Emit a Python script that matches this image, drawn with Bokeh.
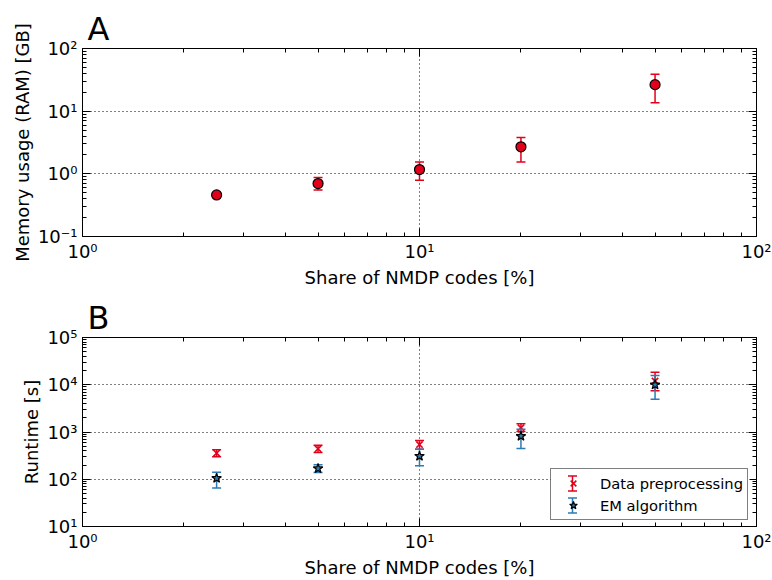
from bokeh.plotting import figure
from bokeh.layouts import column
from bokeh.models import (LogAxis, FixedTicker, CustomJSTickFormatter, Legend,
                          LegendItem, ColumnDataSource, BoxAnnotation)
from bokeh.embed import file_html
from bokeh.resources import INLINE

# ---------------- data ----------------
share = [2.5, 5, 10, 20, 50]

mem = [0.46, 0.70, 1.17, 2.7, 26.5]
mem_low = [0.44, 0.55, 0.79, 1.55, 13.6]
mem_high = [0.48, 0.87, 1.55, 3.8, 39.0]

pre = [356, 441, 543, 1228, 12000]
pre_low = [300, 368, 433, 1023, 7500]
pre_high = [420, 525, 661, 1492, 18400]

em = [105, 169, 308, 815, 10000]
em_low = [65, 139, 193, 447, 4940]
em_high = [141, 202, 433, 1150, 15700]

x_major = [1, 10, 100]
y1_major = [0.1, 1, 10, 100]
y2_major = [10, 100, 1000, 10000, 100000]

legend_labels = ["Data preprocessing", "EM algorithm"]

RED = "#e2001a"
BLUE = "#2b7bb5"
FONT = "DejaVu Sans"


def minors(majors):
    out = []
    for m in majors[:-1]:
        out += [m * k for k in range(2, 10)]
    return out


sup_fmt = CustomJSTickFormatter(code="""
const sup = {'-':'\u207b','0':'\u2070','1':'\u00b9','2':'\u00b2','3':'\u00b3',
             '4':'\u2074','5':'\u2075','6':'\u2076','7':'\u2077','8':'\u2078','9':'\u2079'};
const e = Math.round(Math.log10(tick));
return '10' + String(e).split('').map(c => sup[c]).join('');
""")
blank_fmt = CustomJSTickFormatter(code="return '';")


def make_fig(ylo, yhi, ymaj, ylabel, title, top_border, bottom_border, height):
    p = figure(width=772, height=height, x_axis_type="log", y_axis_type="log",
               x_range=(1, 100), y_range=(ylo, yhi),
               output_backend="svg", toolbar_location=None,
               min_border_left=82, min_border_right=16,
               min_border_top=top_border, min_border_bottom=bottom_border)
    p.outline_line_color = "black"
    p.outline_line_width = 1
    p.background_fill_color = "white"
    p.border_fill_color = "white"

    xt = FixedTicker(ticks=x_major, minor_ticks=minors(x_major))
    yt = FixedTicker(ticks=ymaj, minor_ticks=minors(ymaj))

    for ax, t in ((p.xaxis[0], xt), (p.yaxis[0], yt)):
        ax.ticker = t
        ax.formatter = sup_fmt
        ax.major_tick_in = 8
        ax.major_tick_out = 0
        ax.minor_tick_in = 4
        ax.minor_tick_out = 0
        ax.major_tick_line_color = "black"
        ax.minor_tick_line_color = "black"
        ax.axis_line_color = "black"
        ax.major_label_text_font = FONT
        ax.major_label_text_font_size = "18px"
        ax.major_label_text_color = "black"
        ax.axis_label_text_font = FONT
        ax.axis_label_text_font_size = "18px"
        ax.axis_label_text_font_style = "normal"
        ax.axis_label_text_color = "black"
    p.xaxis[0].axis_label = "Share of NMDP codes [%]"
    p.xaxis[0].major_label_standoff = 4
    p.xaxis[0].axis_label_standoff = 2
    p.yaxis[0].axis_label = ylabel
    p.yaxis[0].major_label_standoff = 5
    p.yaxis[0].axis_label_standoff = 2

    for loc, t in (("above", xt), ("right", yt)):
        ax = LogAxis(ticker=t, formatter=blank_fmt, major_tick_in=8, major_tick_out=0,
                     minor_tick_in=4, minor_tick_out=0, axis_line_color="black",
                     major_label_standoff=0, major_label_text_font_size="1px")
        p.add_layout(ax, loc)

    p.xgrid.ticker = xt
    p.ygrid.ticker = yt
    for g in (p.xgrid[0], p.ygrid[0]):
        g.grid_line_color = "black"
        g.grid_line_dash = "1 3"
        g.grid_line_width = 1
        g.minor_grid_line_color = None

    p.title.text = title
    p.title.text_font = FONT
    p.title.text_font_size = "32px"
    p.title.text_font_style = "normal"
    p.title.text_color = "black"
    p.title.align = "left"
    p.title.offset = 5
    p.title.standoff = 1
    return p


def errorbars(p, x, y, lo, hi, color, marker, msize, fill, line, lw):
    src = ColumnDataSource(dict(x=x, y=y, lo=lo, hi=hi))
    p.segment(x0="x", y0="lo", x1="x", y1="hi", source=src,
              line_color=color, line_width=1.5)
    p.scatter(x="x", y="hi", source=src, marker="dash", size=9,
              line_color=color, line_width=1.5)
    p.scatter(x="x", y="lo", source=src, marker="dash", size=9,
              line_color=color, line_width=1.5)
    p.scatter(x="x", y="y", source=src, marker=marker, size=msize,
              fill_color=fill, line_color=line, line_width=lw)


def sbox(p, left, right, bottom, top, color):
    p.add_layout(BoxAnnotation(left=left, right=right, bottom=bottom, top=top,
                               left_units="screen", right_units="screen",
                               bottom_units="screen", top_units="screen",
                               fill_color=color, fill_alpha=1, line_color=None,
                               level="annotation", editable=False))


# ---------------- panel A ----------------
p1 = make_fig(0.1, 100, y1_major, "Memory usage (RAM) [GB]", "A", 48, 53, 290)
errorbars(p1, share, mem, mem_low, mem_high, RED, "circle", 10, RED, "black", 1.2)

# ---------------- panel B ----------------
p2 = make_fig(10, 100000, y2_major, "Runtime [s]", "B", 47, 54, 290)
errorbars(p2, share, pre, pre_low, pre_high, RED, "x", 9, None, RED, 1.6)
errorbars(p2, share, em, em_low, em_high, BLUE, "star", 10, BLUE, "black", 1.2)

# legend background + error-bar glyphs (screen units, frame relative),
# drawn before the legend so that the legend markers sit on top
LX, LY, LW, LH = 468, 6, 199, 50
PAD, GW = 4, 36
GX = LX + PAD + GW / 2
sbox(p2, LX, LX + LW, LY, LY + LH, "white")
for col, yc in ((RED, 43), (BLUE, 21)):
    sbox(p2, GX - 0.75, GX + 0.75, yc - 7.5, yc + 7.5, col)
    sbox(p2, GX - 4.5, GX + 4.5, yc + 6.75, yc + 8.25, col)
    sbox(p2, GX - 4.5, GX + 4.5, yc - 8.25, yc - 6.75, col)

nan = float("nan")
proxy = ColumnDataSource(dict(x=[nan], y=[nan]))
l_mk_r = p2.scatter(x="x", y="y", source=proxy, marker="x", size=9,
                    line_color=RED, line_width=1.6)
l_mk_b = p2.scatter(x="x", y="y", source=proxy, marker="star", size=10,
                    fill_color=BLUE, line_color="black", line_width=1.2)

legend = Legend(items=[
    LegendItem(label=legend_labels[0], renderers=[l_mk_r]),
    LegendItem(label=legend_labels[1], renderers=[l_mk_b]),
], location=(LX, LY))
legend.border_line_color = "black"
legend.border_line_width = 1
legend.background_fill_alpha = 0
legend.label_text_font = FONT
legend.label_text_font_size = "14.7px"
legend.label_text_color = "black"
legend.label_standoff = 9
legend.glyph_width = GW
legend.glyph_height = 20
legend.label_height = 20
legend.padding = PAD
legend.spacing = 2
legend.margin = 0
p2.add_layout(legend, "center")

layout = column(p1, p2, spacing=0)
open("out.html", "w").write(file_html(layout, INLINE))
